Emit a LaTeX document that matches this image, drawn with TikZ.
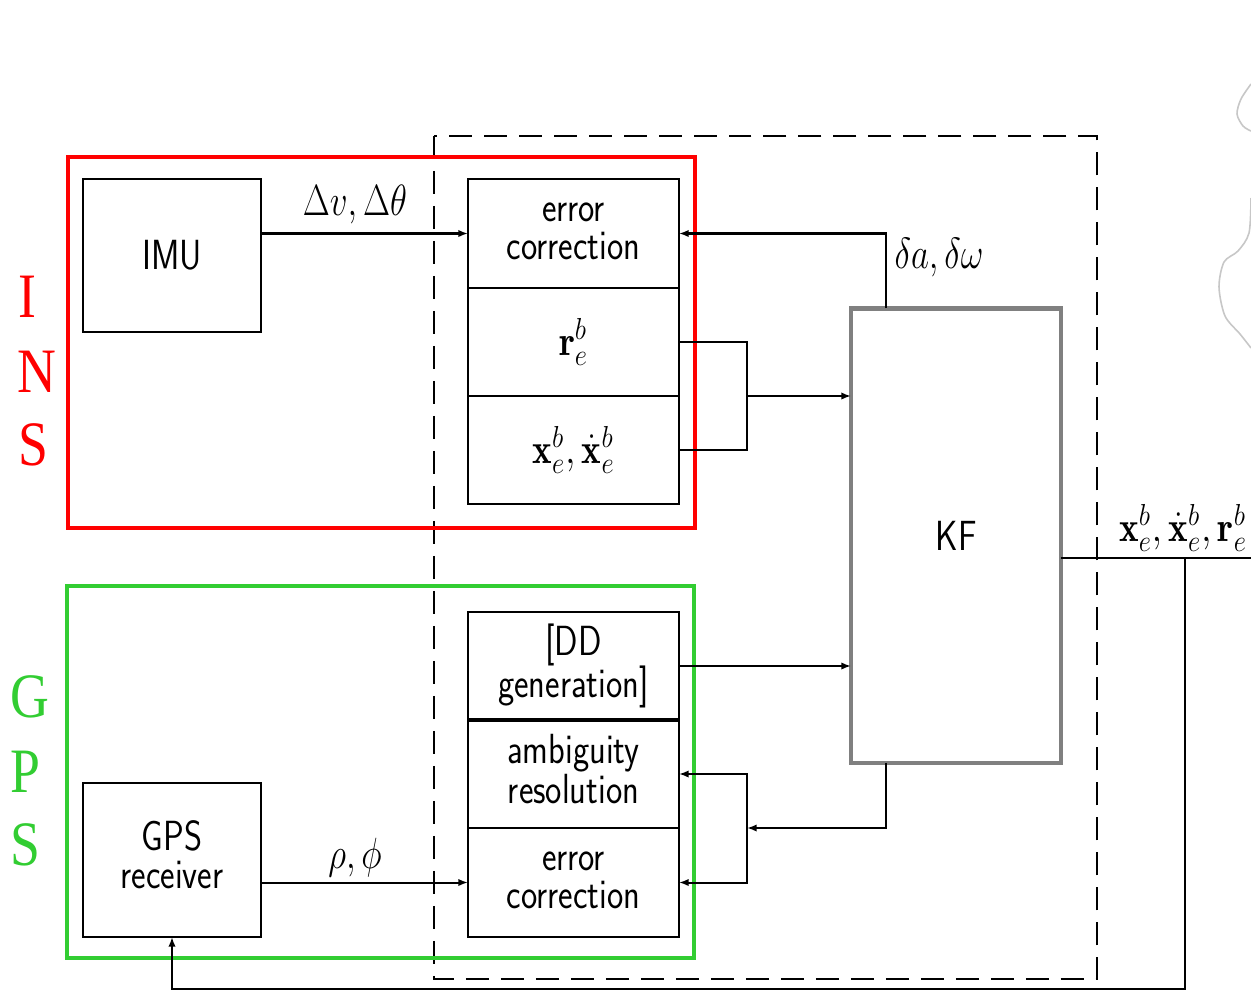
\documentclass[tikz,border=0pt]{standalone}
\usepackage{fontspec}
\usepackage{graphicx}
\newfontfamily\sideserif{Liberation Serif}
\usetikzlibrary{arrows.meta}
\definecolor{insred}{RGB}{255,0,0}
\definecolor{gpsgreen}{RGB}{50,205,50}
\definecolor{kfgray}{RGB}{128,128,128}
\newcommand{\sx}[1]{\scalebox{0.82}[1]{#1}}
\newcommand{\mx}[1]{\scalebox{0.8}[1]{#1}}
\newcommand{\bx}[1]{\scalebox{0.88}[1]{#1}}
\newcommand{\two}[2]{\sx{\begin{tabular}{@{}c@{}}#1\\#2\end{tabular}}}
\newcommand{\sidelab}[1]{\scalebox{0.85}[1]{#1}}
\begin{document}
\begin{tikzpicture}[x=0.02cm,y=-0.02cm,
  ln/.style={line width=1.15pt},
  arr/.style={ln,-{Latex[length=5.5pt,width=4.2pt]}},
  blk/.style={draw,ln,rectangle,inner sep=0pt,outer sep=0pt,
    font=\sffamily\fontsize{24}{20.5}\selectfont},
  lbl/.style={inner sep=0pt,font=\fontsize{24}{28}\selectfont},
  side/.style={inner sep=0pt,font=\sideserif\fontsize{36}{40}\selectfont}]
\useasboundingbox (0,0) rectangle (1251,991);
\fill[white] (0,0) rectangle (1251,991);

% faint curve at the right edge
\draw[black!22,line width=0.9pt] plot[smooth] coordinates {(1251,84) (1241,99) (1237,114) (1243,126) (1251,131)};
\draw[black!22,line width=0.9pt] plot[smooth] coordinates {(1251,198) (1249,233) (1238,251) (1224,262) (1219,287) (1225,316) (1240,334) (1251,348)};

% dashed frame
\draw[ln,dash pattern=on 0.46cm off 0.24cm] (434,136) rectangle (1097,979);

% blocks
\node[blk,minimum width=3.56cm,minimum height=3.06cm] (imu) at (172,255.5) {\sx{IMU}};
\node[blk,minimum width=3.56cm,minimum height=3.08cm] (gps) at (172,860) {\two{GPS}{receiver}};

\node[blk,minimum width=4.22cm,minimum height=2.18cm] (ec1) at (573.5,233.5) {\two{error}{correction}};
\node[blk,minimum width=4.22cm,minimum height=2.16cm] (r) at (573.5,342) {\bx{$\mathbf{r}_e^b$}};
\node[blk,minimum width=4.22cm,minimum height=2.16cm] (xx) at (573.5,450) {\bx{$\mathbf{x}_e^b,\dot{\mathbf{x}}_e^b$}};

\node[blk,minimum width=4.22cm,minimum height=2.16cm] (dd) at (573.5,666) {\two{[DD}{generation]}};
\node[blk,minimum width=4.22cm,minimum height=2.16cm] (amb) at (573.5,774) {\two{ambiguity}{resolution}};
\node[blk,minimum width=4.22cm,minimum height=2.18cm] (ec2) at (573.5,882.5) {\two{error}{correction}};
\draw[line width=2.6pt] (dd.south west) -- (dd.south east);

\node[blk,draw=kfgray,line width=2.8pt,minimum width=4.2cm,minimum height=9.1cm] (kf) at (956,535.5) {\sx{KF}};

% INS / GPS frames
\draw[insred,line width=2.6pt] (68,157) rectangle (695,528);
\draw[gpsgreen,line width=2.6pt] (67,586) rectangle (694,958);
\node[side,text=insred] (sI) at (27,297) {\sidelab{I}};
\node[side,text=insred] (sN) at (37,372) {\sidelab{N}};
\node[side,text=insred] (sS) at (33,445) {\sidelab{S}};
\node[side,text=gpsgreen] (sG) at (30,697) {\sidelab{G}};
\node[side,text=gpsgreen] (sP) at (25,772) {\sidelab{P}};
\node[side,text=gpsgreen] (sS2) at (25,845) {\sidelab{S}};

% coordinates
\coordinate (j1) at (747,396);
\coordinate (j2) at (747,828);
\coordinate (out) at (1251,558);
\coordinate (tap) at (1185,558);

% connectors
\draw[arr] (imu.east |- ec1.west) -- (ec1.west);
\node[lbl] (dvl) at (355,205) {\mx{$\Delta v,\Delta\theta$}};

\draw[arr] ([xshift=0.7cm]kf.north west) |- (ec1.east);
\node[lbl] (dal) at (939,258) {\mx{$\delta a,\delta\omega$}};

\draw[ln] (r.east) -| (j1) |- (xx.east);
\draw[arr] (j1) -- (j1 -| kf.west);

\draw[arr] (dd.east) -- (dd.east -| kf.west);

\draw[arr] ([xshift=0.7cm]kf.south west) |- (j2);
\draw[arr] (j2) |- (amb.east);
\draw[arr] (j2) |- (ec2.east);

\draw[arr] (gps.east |- ec2.west) -- (ec2.west);
\node[lbl] (rpl) at (355,858) {\mx{$\rho,\phi$}};

\draw[ln] (kf.east |- out) -- (out);
\node[lbl] (outl) at (1183,528) {\bx{$\mathbf{x}_e^b,\dot{\mathbf{x}}_e^b,\mathbf{r}_e^b$}};
\draw[arr] (tap) |- (172,989) -- (gps.south);
\end{tikzpicture}
\end{document}
